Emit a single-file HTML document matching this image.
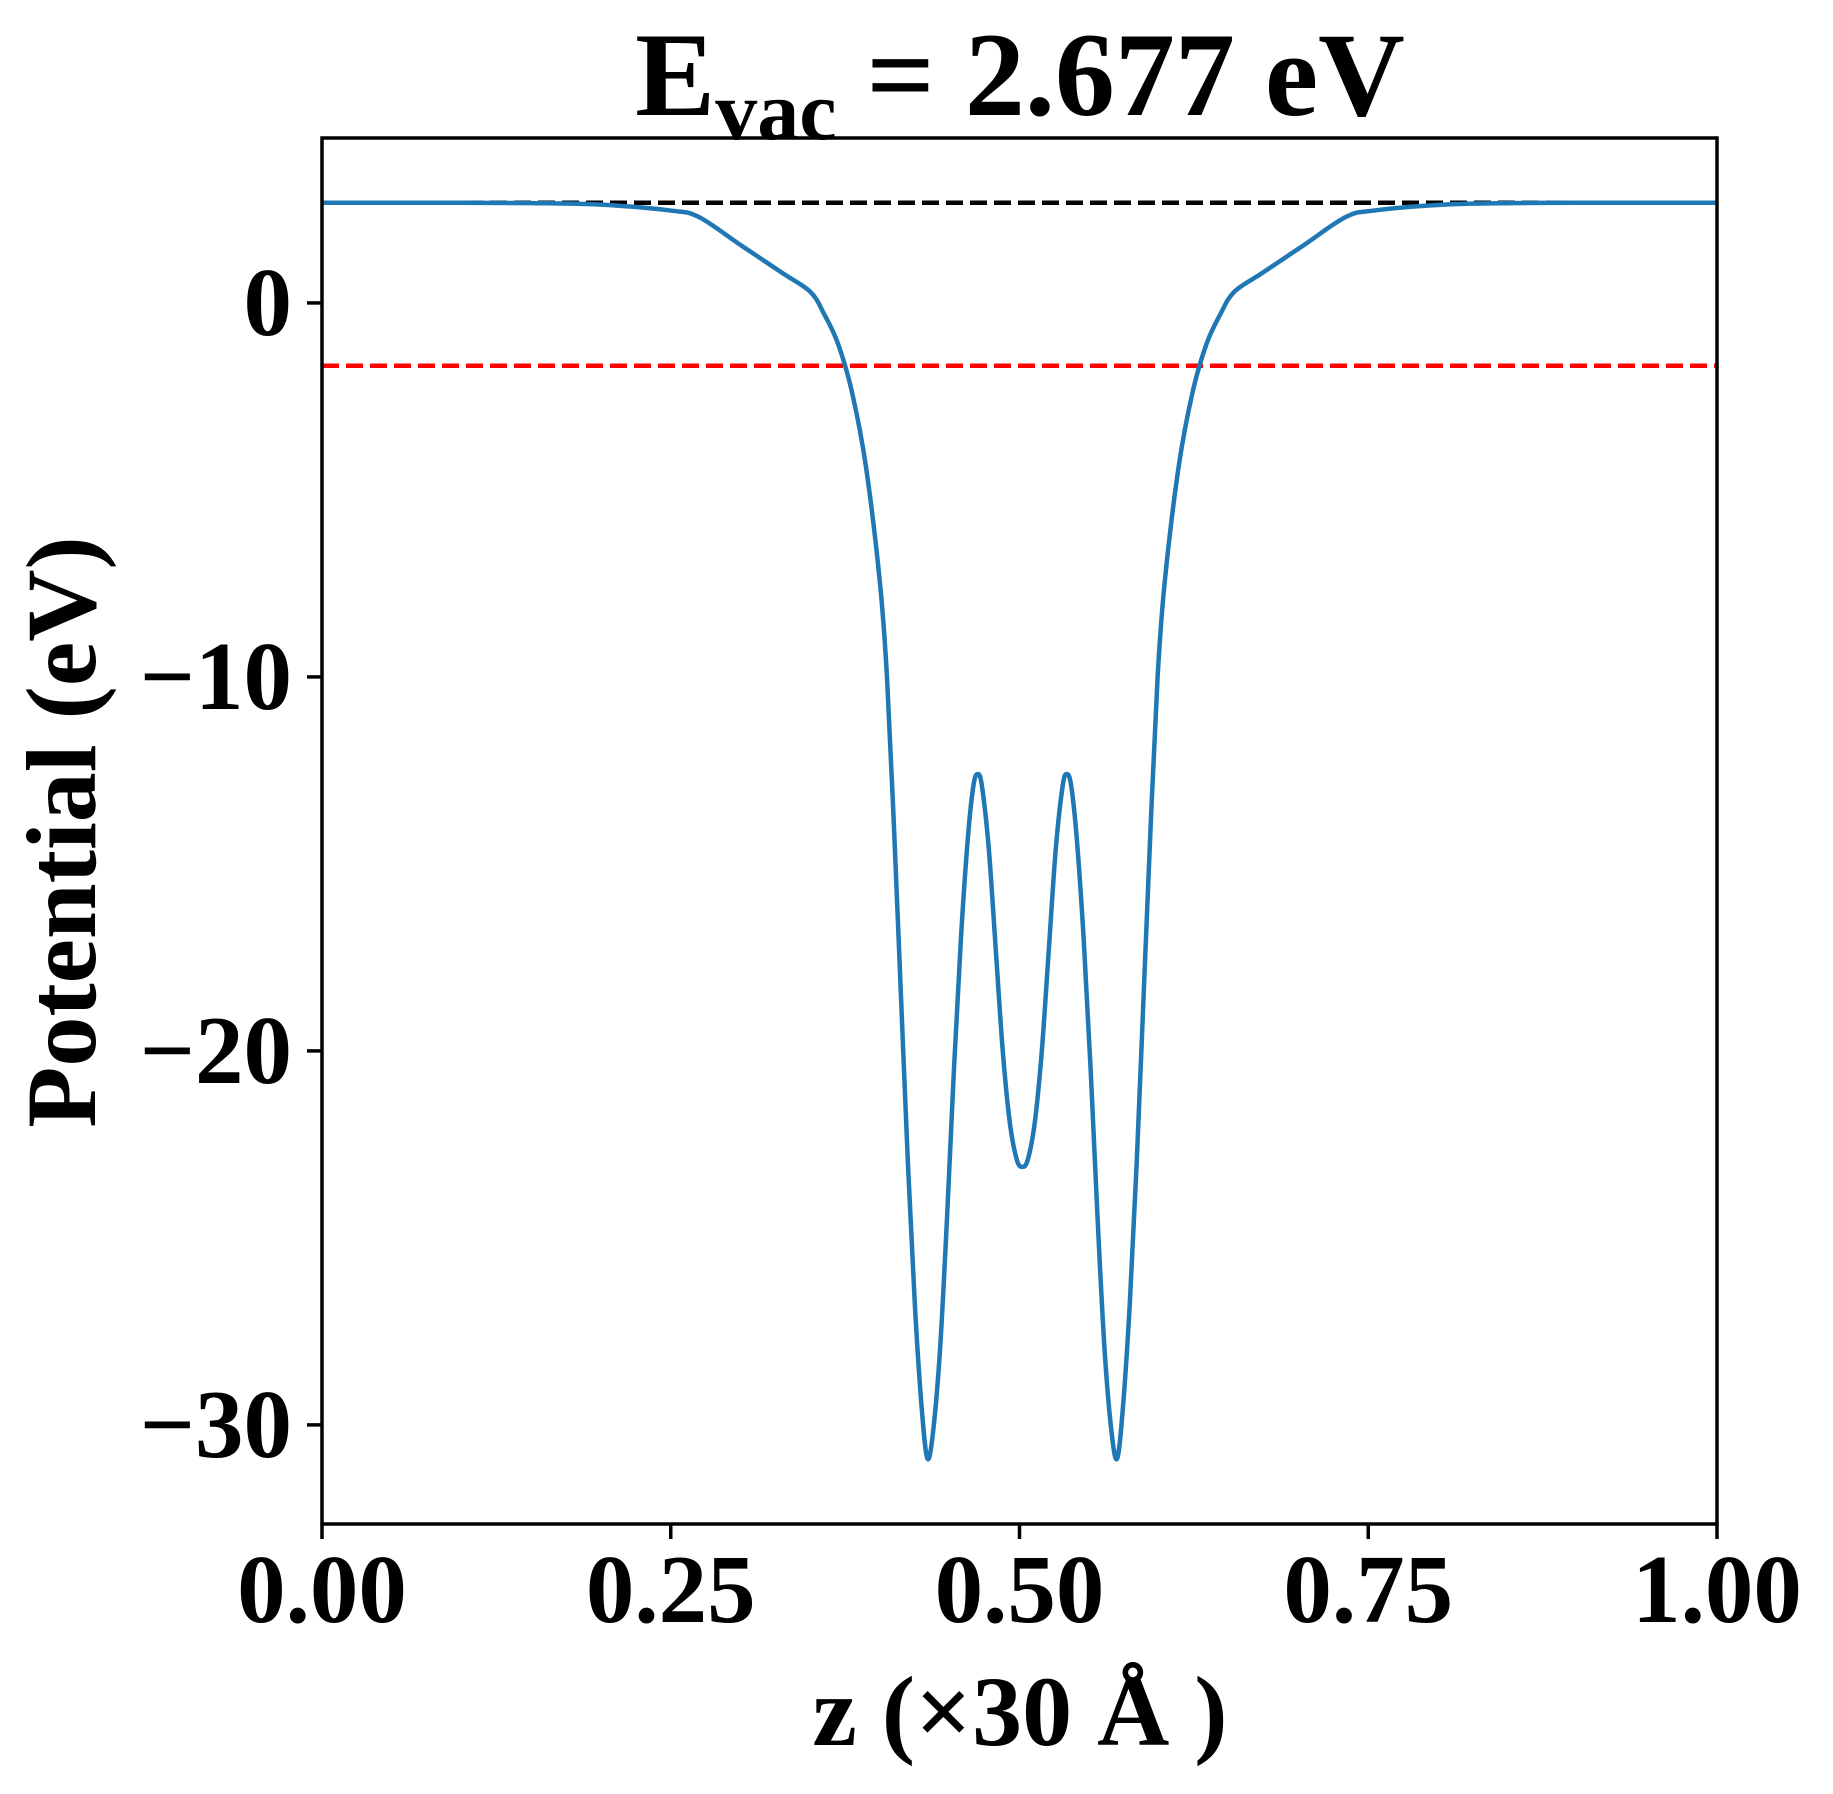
<!DOCTYPE html>
<html><head><meta charset="utf-8"><style>
html,body{margin:0;padding:0;background:#fff;}
svg{display:block;}
text{font-family:"Liberation Serif",serif;font-weight:bold;fill:#000;}
</style></head><body>
<svg id="chart" width="1833" height="1794" viewBox="0 0 1833 1794" xmlns="http://www.w3.org/2000/svg">
<text x="1020" y="115" font-size="120" text-anchor="middle">E<tspan font-size="84" dy="24">vac</tspan><tspan dy="-24"> = 2.677 eV</tspan></text>
<g id="plot"></g>
<text x="1020" y="1745" font-size="100" text-anchor="middle">z (×30 Å )</text>
<text transform="translate(95,832) rotate(-90)" font-size="100" text-anchor="middle">Potential (eV)</text>
</svg>
<script>
const zValues=[0,0.05,0.1,0.15,0.2,0.25,0.27,0.3,0.33,0.35,0.36,0.37,0.38,0.39,0.4,0.405,0.41,0.415,0.42,0.425,0.43,0.434,0.438,0.443,0.448,0.453,0.458,0.463,0.467,0.47,0.473,0.478,0.483,0.488,0.493,0.498,0.502,0.506,0.511,0.516,0.521,0.526,0.531,0.534,0.537,0.541,0.546,0.551,0.556,0.561,0.566,0.57,0.574,0.579,0.584,0.589,0.594,0.599,0.604,0.614,0.624,0.634,0.644,0.654,0.674,0.704,0.734,0.754,0.804,0.854,0.9,0.95,1];
const potValues=[2.677,2.677,2.677,2.67,2.63,2.47,2.3,1.55,0.8,0.3,-0.3,-1.1,-2.4,-4.4,-7.5,-10,-14,-18.5,-23,-26.8,-29.6,-30.9,-30.2,-28,-24.5,-20.5,-17,-14.3,-12.9,-12.6,-12.9,-14.6,-17.3,-20,-21.9,-22.9,-23.1,-22.9,-21.9,-20,-17.3,-14.6,-12.9,-12.6,-12.9,-14.3,-17,-20.5,-24.5,-28,-30.2,-30.9,-29.6,-26.8,-23,-18.5,-14,-10,-7.5,-4.4,-2.4,-1.1,-0.3,0.3,0.8,1.55,2.3,2.47,2.63,2.67,2.677,2.677,2.677];
const xTicks=[0,0.25,0.5,0.75,1];
const xTickLabels=["0.00","0.25","0.50","0.75","1.00"];
const yTicks=[0,-10,-20,-30];
const yTickLabels=["0","\u221210","\u221220","\u221230"];
const vacuumLevel=[2.677];
const fermiLevel=[-1.68];

const L=322,R=1717,T=138,B=1524;
const xMin=0,xMax=1,yMin=-32.65,yMax=4.41;
const sx=v=>L+(v-xMin)/(xMax-xMin)*(R-L);
const sy=v=>B-(v-yMin)/(yMax-yMin)*(B-T);
const NS="http://www.w3.org/2000/svg";
const g=document.getElementById('plot');
function mk(tag,attrs){const e=document.createElementNS(NS,tag);for(const k in attrs)e.setAttribute(k,attrs[k]);g.appendChild(e);return e;}

const pts=zValues.map((z,i)=>[sx(z),sy(potValues[i])]);
let d=`M${pts[0][0]},${pts[0][1]}`;
for(let i=0;i<pts.length-1;i++){
 const p0=pts[Math.max(0,i-1)],p1=pts[i],p2=pts[i+1],p3=pts[Math.min(pts.length-1,i+2)];
 const c1=[p1[0]+(p2[0]-p0[0])/6,p1[1]+(p2[1]-p0[1])/6];
 const c2=[p2[0]-(p3[0]-p1[0])/6,p2[1]-(p3[1]-p1[1])/6];
 d+=` C${c1[0]},${c1[1]} ${c2[0]},${c2[1]} ${p2[0]},${p2[1]}`;
}

const vac=mk('line',{x1:L,x2:R,y1:sy(vacuumLevel[0]),y2:sy(vacuumLevel[0]),stroke:'#000','stroke-width':4.5,'stroke-dasharray':'17 7'});


const fer=mk('line',{x1:L,x2:R,y1:sy(fermiLevel[0]),y2:sy(fermiLevel[0]),stroke:'#ff0000','stroke-width':4.5,'stroke-dasharray':'17 7'});



const curve=mk('path',{d:d,fill:'none',stroke:'#1f77b4','stroke-width':4.5,'stroke-linejoin':'round'});



const frame=mk('rect',{x:L,y:T,width:R-L,height:B-T,fill:'none',stroke:'#000','stroke-width':3.5});



xTicks.forEach((v,i)=>{
 const t=mk('line',{x1:sx(v),x2:sx(v),y1:B,y2:B+15,stroke:'#000','stroke-width':3.5});
 
 
 const lb=mk('text',{x:sx(v),y:1622,'font-size':97,'text-anchor':'middle'});
 lb.textContent=xTickLabels[i];
 
 
});
yTicks.forEach((v,i)=>{
 const t=mk('line',{x1:L-15,x2:L,y1:sy(v),y2:sy(v),stroke:'#000','stroke-width':3.5});
 
 
 const lb=mk('text',{x:292,y:sy(v)+32,'font-size':97,'text-anchor':'end'});
 lb.textContent=yTickLabels[i];
 
 
});
</script>
</body></html>
